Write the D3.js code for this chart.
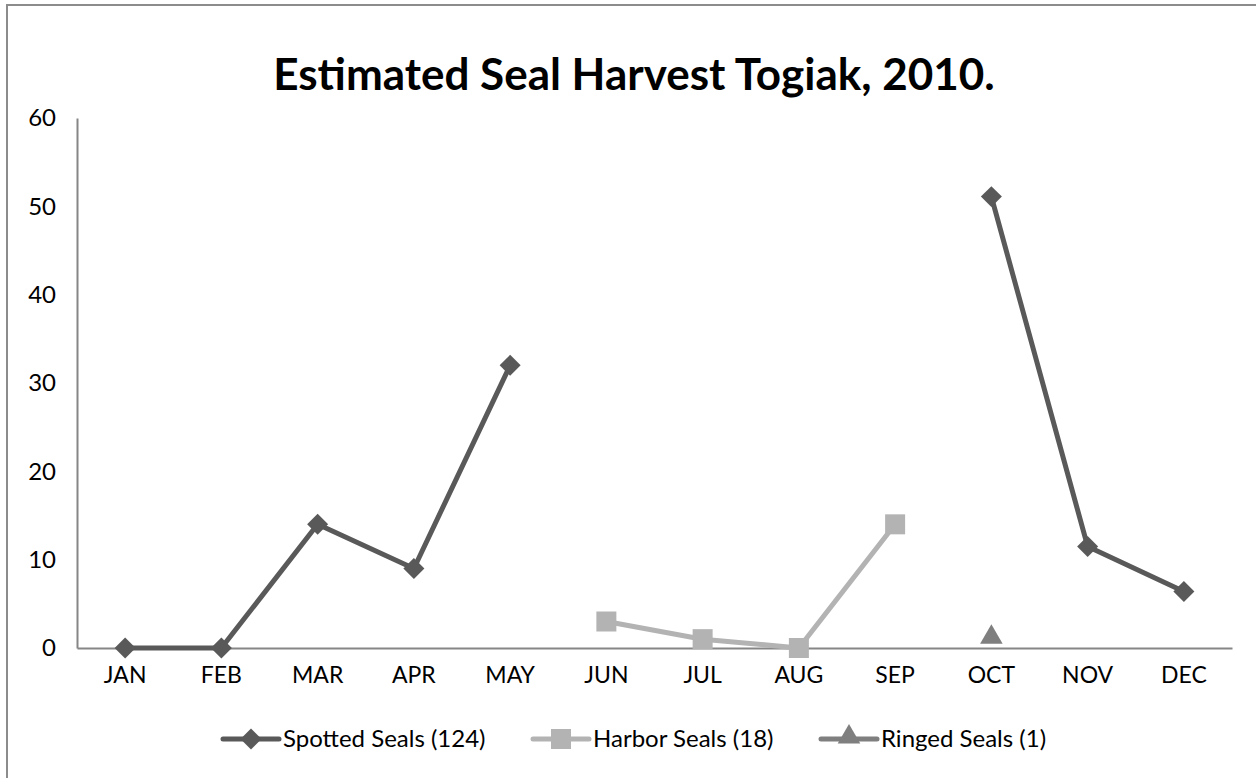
<!DOCTYPE html>
<html>
<head>
<meta charset="utf-8">
<script src="https://cdn.jsdelivr.net/npm/d3@7"></script>
<style>
  body { margin: 0; background: #fff; }
  text { font-family: Lato, "Open Sans", sans-serif; fill: #000; }
</style>
</head>
<body>
<div id="chart"></div>
<script>
const w = 1256;
const h = 778;

const months = ["JAN","FEB","MAR","APR","MAY","JUN","JUL","AUG","SEP","OCT","NOV","DEC"];
const spotted = [0, 0, 14, 9, 32, null, null, null, null, 51.1, 11.5, 6.4];
const harbor = [null, null, null, null, null, 3, 1, 0, 14, null, null, null];
const ringed = [null, null, null, null, null, null, null, null, null, 1, null, null];
const yTicks = [0, 10, 20, 30, 40, 50, 60];
const seriesNames = ["Spotted Seals (124)", "Harbor Seals (18)", "Ringed Seals (1)"];

var svg = d3.select("#chart")
            .append("svg")
            .attr("width", w)
            .attr("height", h);

// outer frame (runs off the right and bottom edge)
svg.append("rect")
   .attr("x", 7).attr("y", 5)
   .attr("width", 1262).attr("height", 790)
   .attr("fill", "none")
   .attr("stroke", "#8c8c8c")
   .attr("stroke-width", 2);

svg.append("text")
   .attr("x", 634).attr("y", 90)
   .attr("text-anchor", "middle")
   .attr("font-size", 44)
   .attr("font-weight", "bold")
   .text("Estimated Seal Harvest Togiak, 2010.");

var x = d3.scaleBand().domain(months).range([77, 1232]).padding(0);
var y = d3.scaleLinear().domain([0, 60]).range([648, 118]);
var cx = (m) => x(m) + x.bandwidth() / 2;

// axes
var yAxis = svg.append("g")
   .attr("transform", "translate(77,0)")
   .call(d3.axisLeft(y).tickValues(yTicks).tickSize(0).tickPadding(21));
yAxis.select(".domain").attr("stroke", "#868686").attr("stroke-width", 2);
yAxis.selectAll("text").attr("font-size", 24).attr("font-family", "Lato, sans-serif").attr("fill", "#000");

var xAxis = svg.append("g")
   .attr("transform", "translate(0,648)")
   .call(d3.axisBottom(x).tickSize(0));
xAxis.select(".domain").attr("stroke", "#868686").attr("stroke-width", 2);
xAxis.selectAll("text").attr("font-size", 23).attr("font-family", "Lato, sans-serif").attr("fill", "#000")
     .attr("dy", null).attr("y", 35);

var series = [
  {name: seriesNames[0], values: spotted, color: "#595959", shape: "diamond"},
  {name: seriesNames[1], values: harbor, color: "#b3b3b3", shape: "square"},
  {name: seriesNames[2], values: ringed, color: "#7f7f7f", shape: "triangle"}
];

function drawMarker(g, shape, px, py, color) {
  var p = g.append("path").attr("fill", color);
  if (shape === "diamond") {
    p.attr("d", d3.symbol().type(d3.symbolSquare).size(220)())
     .attr("transform", "translate(" + px + "," + py + ") rotate(45)");
  } else if (shape === "square") {
    p.attr("d", d3.symbol().type(d3.symbolSquare).size(400)())
     .attr("transform", "translate(" + px + "," + py + ")");
  } else {
    p.attr("d", d3.symbol().type(d3.symbolTriangle).size(220)())
     .attr("transform", "translate(" + px + "," + (py - 2) + ")");
  }
}

var line = d3.line()
  .defined((d) => d.v !== null)
  .x((d) => cx(d.m))
  .y((d) => y(d.v));

series.forEach(function(s) {
  var pts = months.map((m, i) => ({m: m, v: s.values[i]}));
  svg.append("path")
     .datum(pts)
     .attr("fill", "none")
     .attr("stroke", s.color)
     .attr("stroke-width", 5)
     .attr("stroke-linejoin", "round")
     .attr("d", line);
  var g = svg.append("g");
  pts.filter((d) => d.v !== null).forEach(function(d) {
    drawMarker(g, s.shape, cx(d.m), y(d.v), s.color);
  });
});

// legend
var legendX = [223, 533, 821];
series.forEach(function(s, i) {
  var lg = svg.append("g").attr("transform", "translate(" + legendX[i] + ",739)");
  lg.append("line").attr("x1", 0).attr("x2", 56).attr("y1", 0).attr("y2", 0)
    .attr("stroke", s.color).attr("stroke-width", 5).attr("stroke-linecap", "round");
  drawMarker(lg, s.shape, 28, 0, s.color);
  lg.append("text").attr("x", 60).attr("y", 8).attr("font-size", 24).text(s.name);
});
</script>
</body>
</html>
